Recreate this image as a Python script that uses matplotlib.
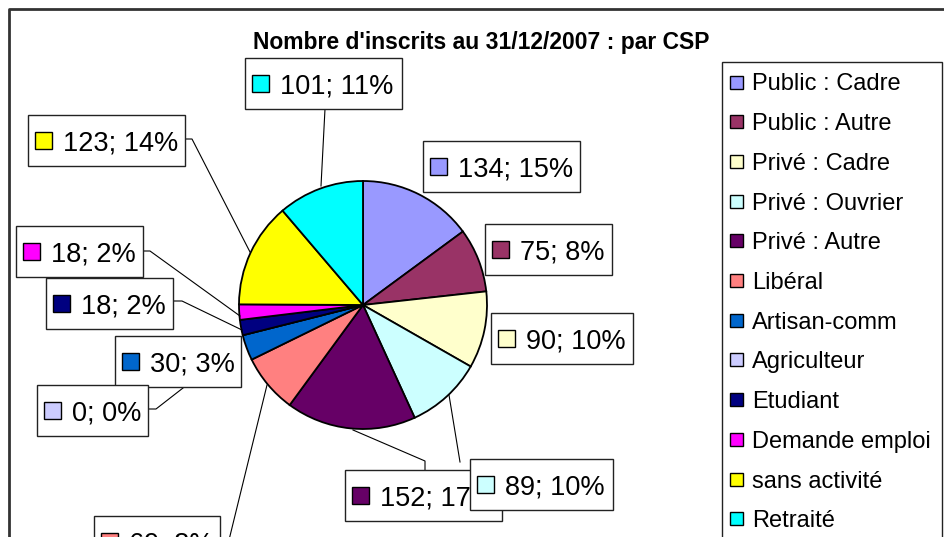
import matplotlib.pyplot as plt
from matplotlib.patches import Rectangle

# Inscrits par catégorie socio-professionnelle au 31/12/2007
categories = ["Public : Cadre", "Public : Autre", "Privé : Cadre", "Privé : Ouvrier",
              "Privé : Autre", "Libéral", "Artisan-comm", "Agriculteur", "Etudiant",
              "Demande emploi", "sans activité", "Retraité"]
counts = [134, 75, 90, 89, 152, 69, 30, 0, 18, 18, 123, 101]
colors = ["#9999FF", "#993366", "#FFFFCC", "#CCFFFF", "#660066", "#FF8080",
          "#0066CC", "#CCCCFF", "#000080", "#FF00FF", "#FFFF00", "#00FFFF"]
title = "Nombre d'inscrits au 31/12/2007 : par CSP"

W, H = 944, 537
FONT = "Liberation Sans"


def Y(y):
    # work in screen pixels, y measured from the top
    return H - y


# label boxes: left, top, width (pixels)
label_boxes = [(423, 141, 157), (485, 224, 127), (491, 313, 142), (470, 459, 143),
               (345, 470, 157), (94, 516, 126), (115, 336, 126), (37, 385, 111),
               (46, 278, 127), (16, 226, 127), (28, 115, 157), (245, 58, 157)]
# leader lines, polyline points per slice (None when the label sits on the pie)
leaders = [None, None, None,
           [(449, 395), (460, 462)],
           [(353, 430), (425, 461), (425, 470)],
           [(267, 385), (229, 540)],
           None,
           [(148, 409), (156, 409), (183, 388)],
           [(173, 301), (182, 301), (242, 330)],
           [(143, 251), (150, 251), (240, 316)],
           [(185, 139), (192, 139), (250, 252)],
           [(325, 109), (321, 186)]]

fig = plt.figure(figsize=(W / 100, H / 100), dpi=100)
ax = fig.add_axes([0, 0, 1, 1])

ax.pie(counts, colors=colors, startangle=90, counterclock=False,
       center=(363, Y(305)), radius=124,
       wedgeprops=dict(edgecolor="black", linewidth=1.3))
ax.set_xlim(0, W)
ax.set_ylim(0, H)
ax.set_aspect("auto")
ax.axis("off")

# chart frame
ax.plot([8.5, 8.5, W + 5], [Y(H + 5), Y(9), Y(9)], color="#333333", lw=2, zorder=1)

ax.text(481, Y(40.5), title, fontsize=16.5, fontweight="bold", family=FONT,
        ha="center", va="center_baseline")

total = sum(counts)
for pts in leaders:
    if pts:
        xs = [p[0] for p in pts]
        ys = [Y(p[1]) for p in pts]
        ax.plot(xs, ys, color="black", lw=0.8, zorder=3)

order = list(range(len(categories)))
order.remove(3)
order.append(3)  # Privé : Ouvrier label sits on top of Privé : Autre
for z, i in enumerate(order):
    x0, y0, w = label_boxes[i]
    h = 51
    zb = 10 + z
    ax.add_patch(Rectangle((x0, Y(y0 + h)), w, h, facecolor="white",
                           edgecolor="#222222", lw=1, zorder=zb))
    ax.add_patch(Rectangle((x0 + 7, Y(y0 + h / 2 + 8.5)), 17, 17,
                           facecolor=colors[i], edgecolor="black", lw=1, zorder=zb + 0.1))
    pct = round(100 * counts[i] / total)
    ax.text(x0 + 35, Y(y0 + h / 2), f"{counts[i]}; {pct}%", fontsize=19.5,
            family=FONT, ha="left", va="center_baseline", zorder=zb + 0.2)

# legend
ax.add_patch(Rectangle((722, Y(545)), 220, 545 - 62, facecolor="white",
                       edgecolor="#222222", lw=1, zorder=5))
for i, name in enumerate(categories):
    cy = 82 + 39.7 * i
    ax.add_patch(Rectangle((730, Y(cy + 6.5)), 13, 13, facecolor=colors[i],
                           edgecolor="black", lw=1, zorder=6))
    ax.text(752, Y(cy), name, fontsize=17, family=FONT, ha="left",
            va="center_baseline", zorder=6)

fig.savefig("out.png", dpi=100)
